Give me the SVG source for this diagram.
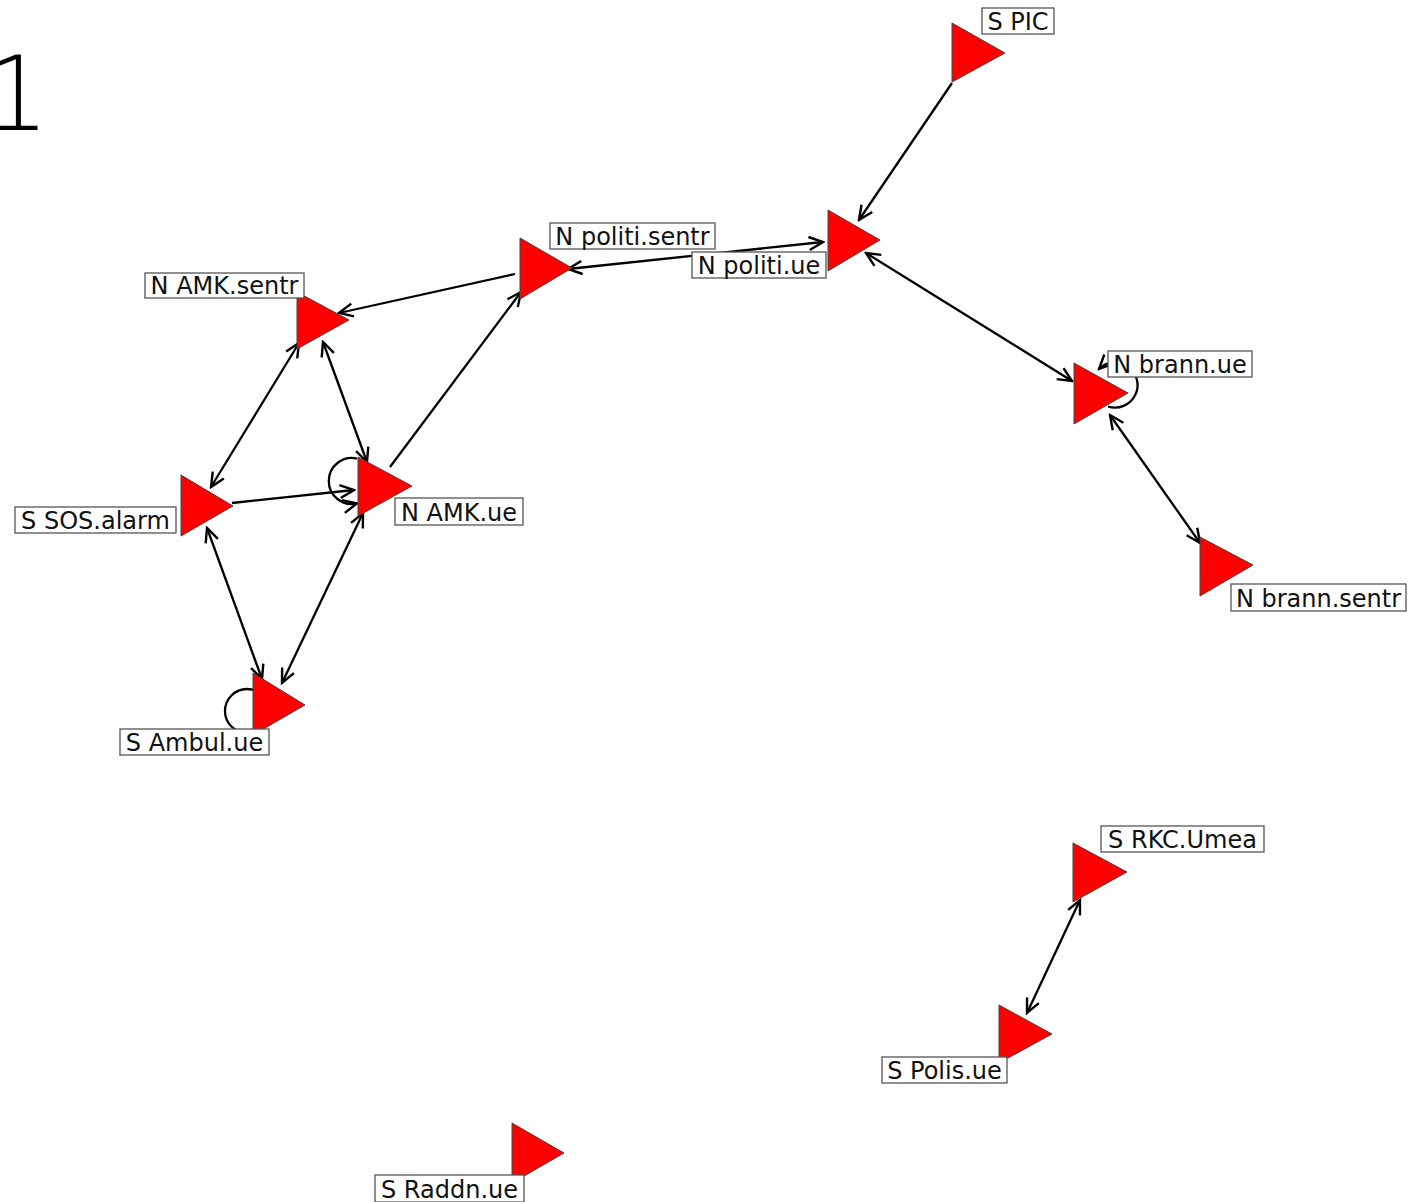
<svg xmlns="http://www.w3.org/2000/svg" width="1428" height="1202" viewBox="0 0 1428 1202">
<defs>
<marker id="ah" viewBox="-17 -9 19 18" refX="0" refY="0" markerWidth="19" markerHeight="18" markerUnits="userSpaceOnUse" orient="auto-start-reverse">
<path d="M-14,-6.5 L0,0 L-14,6.5" fill="none" stroke="#000" stroke-width="2.4"/>
</marker>
</defs>
<style>
.e{fill:none;stroke:#000;stroke-width:2.3}
.one{marker-end:url(#ah)}
.two{marker-start:url(#ah);marker-end:url(#ah)}
.tri{fill:#ff0000;stroke:#444;stroke-width:1}
.lb{fill:#fff;stroke:#555;stroke-width:1.3}
.tx{font-family:"DejaVu Sans",sans-serif;font-size:24px;fill:#111;text-anchor:middle}
.title{font-family:"DejaVu Sans",sans-serif;font-size:103px;font-weight:200;fill:#000}
</style>
<rect width="1428" height="1202" fill="#fff"/>
<text class="title" x="-16" y="130">1</text>
<g id="connectors">
<path class="e one" d="M952,83 L859,220"/>
<path class="e two" d="M866,253 L1072,381"/>
<path class="e two" d="M568,269 L823,242"/>
<path class="e one" d="M515,274 L339,313"/>
<path class="e one" d="M390,467 L521,292"/>
<path class="e two" d="M299,343 L211,487"/>
<path class="e two" d="M323,342 L367,462"/>
<path class="e one" d="M232,503 L354,490"/>
<path class="e one" d="M357,458.6 A23 23 0 1 0 357,503.4"/>
<path class="e two" d="M207,528 L262,679"/>
<path class="e two" d="M363,513 L282,683"/>
<circle class="e" cx="247" cy="711" r="22"/>
<path class="e one" d="M1108,406.5 A22.6 22.6 0 1 0 1099,369"/>
<path class="e two" d="M1110,415 L1200,543"/>
<path class="e two" d="M1080,900 L1027,1013"/>
</g>
<g id="node-S-PIC">
<polygon class="tri" points="952,23 952,82 1005,53"/>
<rect class="lb" x="982" y="8" width="72" height="26"/>
<text class="tx" x="1018" y="29.5">S PIC</text>
</g>
<g id="node-N-politi-ue">
<polygon class="tri" points="828,210 828,271 880,240"/>
<rect class="lb" x="692" y="252" width="134" height="26"/>
<text class="tx" x="759" y="273.5">N politi.ue</text>
</g>
<g id="node-N-politi-sentr">
<polygon class="tri" points="520,238 520,299 572,268"/>
<rect class="lb" x="550" y="223" width="165" height="26"/>
<text class="tx" x="632.5" y="244.5">N politi.sentr</text>
</g>
<g id="node-N-AMK-sentr">
<polygon class="tri" points="297,292 297,349 349,320"/>
<rect class="lb" x="145" y="273" width="159" height="25"/>
<text class="tx" x="224.5" y="293.5">N AMK.sentr</text>
</g>
<g id="node-N-AMK-ue">
<polygon class="tri" points="358,457 358,516 412,486"/>
<rect class="lb" x="395" y="498" width="128" height="27"/>
<text class="tx" x="459" y="520.5">N AMK.ue</text>
</g>
<g id="node-S-SOS-alarm">
<polygon class="tri" points="181,475 181,536 233,506"/>
<rect class="lb" x="15" y="507" width="161" height="26"/>
<text class="tx" x="95.5" y="528.5">S SOS.alarm</text>
</g>
<g id="node-S-Ambul-ue">
<polygon class="tri" points="253,673 253,735 305,705"/>
<rect class="lb" x="120" y="729" width="149" height="26"/>
<text class="tx" x="194.5" y="750.5">S Ambul.ue</text>
</g>
<g id="node-N-brann-ue">
<polygon class="tri" points="1074,363 1074,424 1128,393"/>
<rect class="lb" x="1108" y="351" width="144" height="26"/>
<text class="tx" x="1180" y="372.5">N brann.ue</text>
</g>
<g id="node-N-brann-sentr">
<polygon class="tri" points="1200,537 1200,596 1253,565"/>
<rect class="lb" x="1231" y="584" width="175" height="27"/>
<text class="tx" x="1318.5" y="606.5">N brann.sentr</text>
</g>
<g id="node-S-RKC-Umea">
<polygon class="tri" points="1073,843 1073,902 1127,872"/>
<rect class="lb" x="1101" y="826" width="163" height="26"/>
<text class="tx" x="1182.5" y="847.5">S RKC.Umea</text>
</g>
<g id="node-S-Polis-ue">
<polygon class="tri" points="999,1005 999,1063 1052,1034"/>
<rect class="lb" x="882" y="1057" width="125" height="26"/>
<text class="tx" x="944.5" y="1078.5">S Polis.ue</text>
</g>
<g id="node-S-Raddn-ue">
<polygon class="tri" points="512,1123 512,1183 564,1153"/>
<rect class="lb" x="375" y="1175" width="149" height="27"/>
<text class="tx" x="449.5" y="1197.5">S Raddn.ue</text>
</g>
</svg>
